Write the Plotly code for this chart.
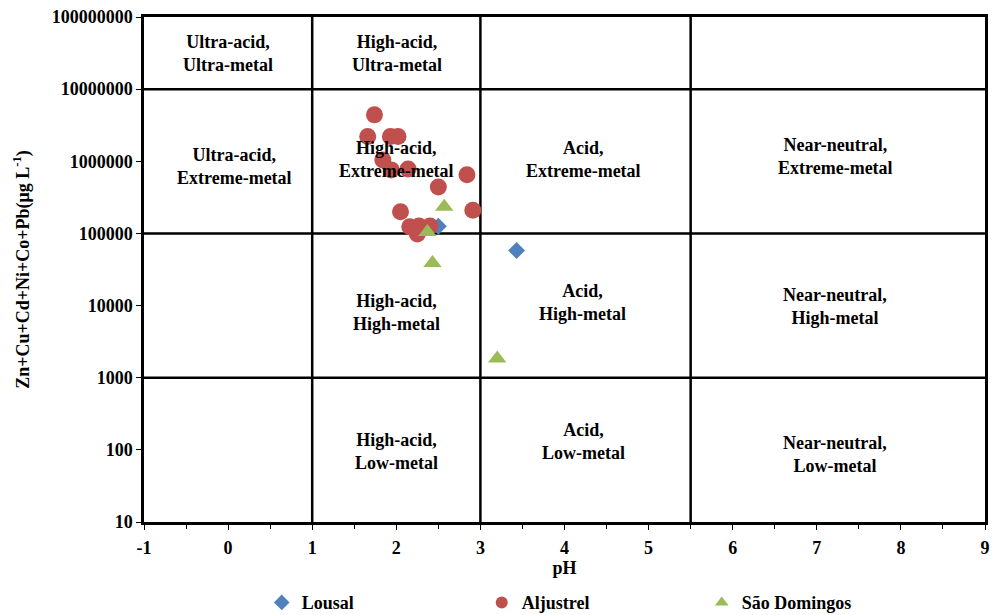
import math
import plotly.graph_objects as go

# Sample data: pH and summed dissolved metals (µg/L)
lousal_ph = [2.50, 3.43]
lousal_metal = [1.26e5, 5.8e4]

aljustrel_ph = [1.74, 1.66, 1.93, 2.02, 1.84, 1.94, 2.14, 2.84, 2.50,
                2.05, 2.91, 2.16, 2.27, 2.40, 2.25]
aljustrel_metal = [4.4e6, 2.2e6, 2.2e6, 2.2e6, 1.04e6, 7.6e5, 7.8e5, 6.5e5, 4.4e5,
                   2.0e5, 2.1e5, 1.24e5, 1.27e5, 1.27e5, 9.8e4]

sd_ph = [2.57, 2.37, 2.43, 3.20]
sd_metal = [2.35e5, 1.05e5, 3.9e4, 1.85e3]

# Ficklin-style class boundaries
ph_bounds = [1, 3, 5.5]
metal_bounds = [1e3, 1e5, 1e7]

# Class labels: (pH, metal, text)
class_ph = [0, 2.01, 0.08, 2.0, 4.22, 7.22, 2.0, 4.21, 7.22, 2.0, 4.22, 7.22]
class_metal = [3.1e7, 3.1e7, 8.5e5, 1.07e6, 1.05e6, 1.15e6,
               8.1e3, 1.1e4, 9.8e3, 9.6e1, 1.3e2, 8.5e1]
class_text = ["Ultra-acid,<br>Ultra-metal", "High-acid,<br>Ultra-metal",
              "Ultra-acid,<br>Extreme-metal", "High-acid,<br>Extreme-metal",
              "Acid,<br>Extreme-metal", "Near-neutral,<br>Extreme-metal",
              "High-acid,<br>High-metal", "Acid,<br>High-metal",
              "Near-neutral,<br>High-metal", "High-acid,<br>Low-metal",
              "Acid,<br>Low-metal", "Near-neutral,<br>Low-metal"]

x_ticks = [-1, 0, 1, 2, 3, 4, 5, 6, 7, 8, 9]
y_ticks = [10, 100, 1000, 10000, 100000, 1000000, 10000000, 100000000]

FONT = "Liberation Serif, Times New Roman, serif"

fig = go.Figure()
fig.add_trace(go.Scatter(x=lousal_ph, y=lousal_metal, mode="markers", name="Lousal",
                         marker=dict(symbol="diamond", size=13, color="#4F81BD")))
fig.add_trace(go.Scatter(x=aljustrel_ph, y=aljustrel_metal, mode="markers", name="Aljustrel",
                         marker=dict(symbol="circle", size=17, color="#C0504D")))
fig.add_trace(go.Scatter(x=sd_ph, y=sd_metal, mode="markers", name="São Domingos",
                         marker=dict(symbol="triangle-up", size=16, color="#9BBB59")))

for xb in ph_bounds:
    fig.add_shape(type="line", xref="x", yref="paper", x0=xb, x1=xb, y0=0, y1=1,
                  line=dict(color="black", width=2.5), layer="below")
for yb in metal_bounds:
    fig.add_shape(type="line", xref="paper", yref="y", x0=0, x1=1, y0=yb, y1=yb,
                  line=dict(color="black", width=2.5), layer="below")

# annotations on a log axis take log10 positions
for px, py, t in zip(class_ph, class_metal, class_text):
    fig.add_annotation(x=px, y=math.log10(py), xref="x", yref="y", text=t, showarrow=False,
                       font=dict(family=FONT, size=18, color="black", weight="bold"))

fig.update_layout(
    width=997, height=615,
    margin=dict(l=144, r=12, t=17, b=93, autoexpand=False),
    paper_bgcolor="white", plot_bgcolor="white",
    font=dict(family=FONT, color="black"),
    showlegend=True,
    legend=dict(orientation="h", x=0.14, xanchor="left",
                yref="container", y=0.02, yanchor="middle",
                entrywidth=175, itemsizing="constant",
                font=dict(family=FONT, size=18, color="black", weight="bold")),
)

fig.update_xaxes(
    range=[-1, 9], tickvals=x_ticks, ticktext=[str(v) for v in x_ticks],
    showgrid=False, zeroline=False, automargin=False,
    showline=True, linecolor="black", linewidth=2.5, mirror=True,
    ticks="outside", ticklen=5, tickwidth=1, tickcolor="black", ticklabelstandoff=3,
    minor=dict(dtick=0.5, tick0=-1, ticks="outside", ticklen=4, tickcolor="black", showgrid=False),
    tickfont=dict(family=FONT, size=18, color="black", weight="bold"),
    title=dict(text="pH", standoff=3,
               font=dict(family=FONT, size=18, color="black", weight="bold")),
)
fig.update_yaxes(
    type="log", range=[1, 8], tickvals=y_ticks, ticktext=[str(v) for v in y_ticks],
    showgrid=False, zeroline=False, automargin=False,
    showline=True, linecolor="black", linewidth=2.5, mirror=True,
    ticks="outside", ticklen=5, tickwidth=1, tickcolor="black",
    tickfont=dict(family=FONT, size=18, color="black", weight="bold"),
    title=dict(text="Zn+Cu+Cd+Ni+Co+Pb(μg L<sup>-1</sup>)", standoff=18,
               font=dict(family=FONT, size=18, color="black", weight="bold")),
)

fig.write_html("out.html")
